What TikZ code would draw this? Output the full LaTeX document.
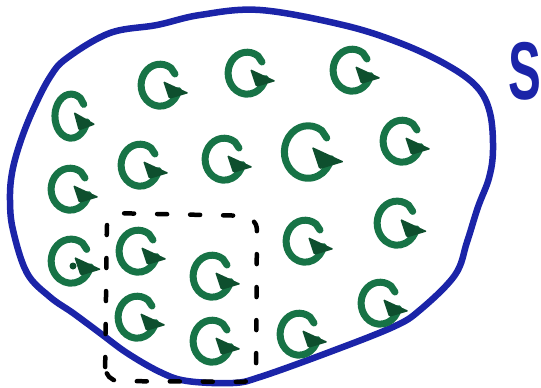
\documentclass[tikz,border=0pt]{standalone}
\usepackage{fontspec}
\setsansfont{Liberation Sans}
\definecolor{gGreen}{HTML}{177346}
\definecolor{gHead}{HTML}{0E4F2E}
\definecolor{sBlue}{HTML}{1B24A8}
\begin{document}
\begin{tikzpicture}[x=1pt,y=-1pt,
  gline/.style={draw=gGreen,line width=7pt,line cap=round,line join=round},
  circarrow/.pic={
    \draw[gline] (15,-12) -- (11,-18) arc[start angle=-55,end angle=-345,x radius=19,y radius=21];
    \fill[gHead,rounded corners=1.5pt] (3,-5) -- (29,7) -- (9,13) -- cycle;
  },
  dashbox/.style={draw=black,line width=4.5pt,line cap=round,dash pattern=on 10pt off 23pt,rounded corners=14pt}]
\useasboundingbox (0,0) rectangle (541,388);
% boundary of S
\draw[sBlue,line width=6.5pt,line join=round] plot[smooth cycle,tension=0.6] coordinates {
 (260,10) (343,25) (400,43) (447,65) (477,87) (490,113) (493,150) (489,178) (478,207)
 (467,242) (455,275) (420,310) (393,327) (327,353) (260,377) (233,383) (187,381) (160,372)
 (127,353) (100,333) (73,313) (50,297) (27,273) (13,230) (10,200) (12,173) (20,143)
 (33,110) (50,77) (67,58) (110,33) (157,25) (200,15)};
\node[text=sBlue,font=\sffamily\bfseries\fontsize{82}{82}\selectfont,xscale=0.6,inner sep=0pt] (S) at (525,71) {S};
% circulation arrows
\pic[xscale=0.85,yscale=1.05] (g1) at (71,117) {circarrow};
\pic (g2) at (160,86) {circarrow};
\pic (g3) at (247,74) {circarrow};
\pic (g4) at (352,71) {circarrow};
\pic (g5) at (140,166) {circarrow};
\pic (g6) at (224,160) {circarrow};
\pic[scale=1.25] (g7) at (308,153) {circarrow};
\pic (g8) at (402,142) {circarrow};
\pic (g9) at (70,190) {circarrow};
\pic[scale=1.05] (g10) at (71,262) {circarrow};
\fill[gHead] (73,266) circle[radius=3.5pt];
\pic (g11) at (138,252) {circarrow};
\pic (g12) at (212,277) {circarrow};
\pic (g13) at (305,242) {circarrow};
\pic[scale=1.05] (g14) at (397,224) {circarrow};
\pic (g15) at (137,318) {circarrow};
\pic (g16) at (212,342) {circarrow};
\pic (g17) at (299,335) {circarrow};
\pic (g18) at (380,304) {circarrow};
% dashed sub-region
\draw[dashbox] (105,381) -- (107,213) -- (257,216) -- (256,382) -- cycle;
\end{tikzpicture}
\end{document}
